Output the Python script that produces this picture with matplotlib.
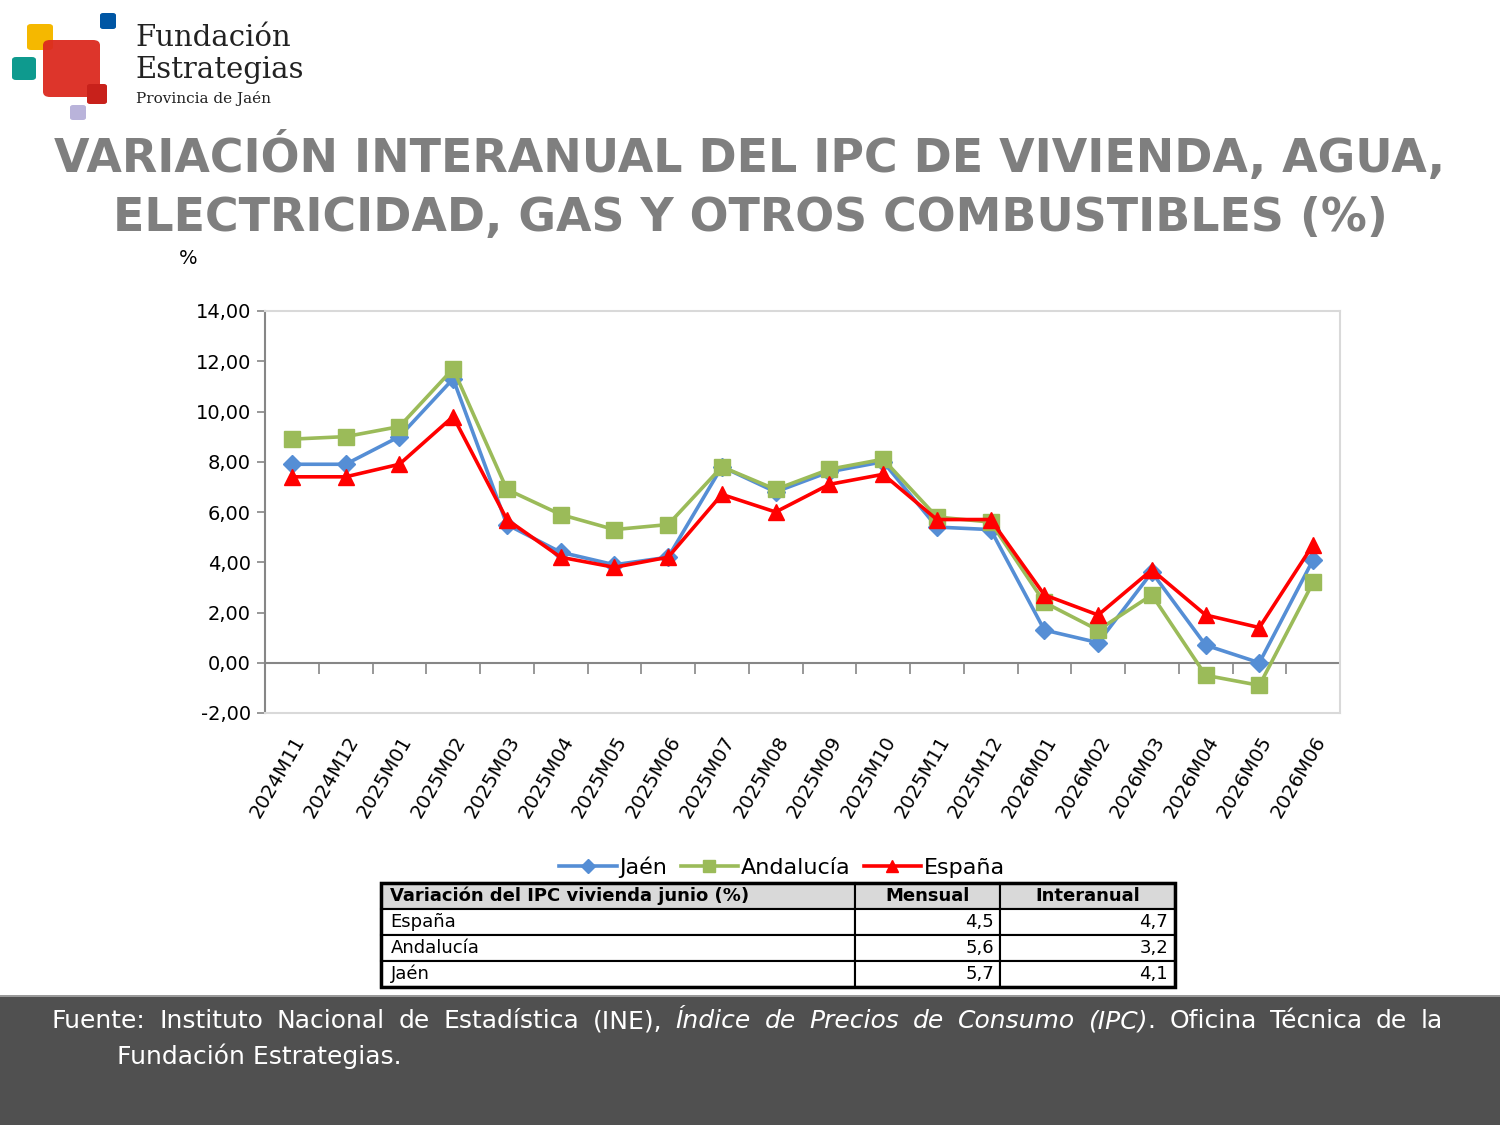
import numpy as np
import matplotlib
matplotlib.use("Agg")
import matplotlib.pyplot as plt
from matplotlib.patches import FancyBboxPatch, Rectangle
from matplotlib.ticker import FuncFormatter

meses = ["2024M11", "2024M12", "2025M01", "2025M02", "2025M03", "2025M04", "2025M05",
         "2025M06", "2025M07", "2025M08", "2025M09", "2025M10", "2025M11", "2025M12",
         "2026M01", "2026M02", "2026M03", "2026M04", "2026M05", "2026M06"]
jaen = [7.9, 7.9, 9.0, 11.3, 5.5, 4.4, 3.9, 4.2, 7.8, 6.8, 7.6, 8.0, 5.4, 5.3,
        1.3, 0.8, 3.6, 0.7, 0.0, 4.1]
andalucia = [8.9, 9.0, 9.4, 11.7, 6.9, 5.9, 5.3, 5.5, 7.8, 6.9, 7.7, 8.1, 5.8, 5.6,
             2.4, 1.3, 2.7, -0.5, -0.9, 3.2]
espana = [7.4, 7.4, 7.9, 9.8, 5.7, 4.2, 3.8, 4.2, 6.7, 6.0, 7.1, 7.5, 5.7, 5.7,
          2.7, 1.9, 3.7, 1.9, 1.4, 4.7]

tabla_cab = ["Variación del IPC vivienda junio (%)", "Mensual", "Interanual"]
tabla_filas = ["España", "Andalucía", "Jaén"]
tabla_mensual = ["4,5", "5,6", "5,7"]
tabla_interanual = ["4,7", "3,2", "4,1"]

W, H = 1500, 1125
fig = plt.figure(figsize=(15, 11.25), dpi=100)
fig.patch.set_facecolor("white")


def fx(px):
    return px / W


def fy(py):
    return 1 - py / H


# logo
def caja(x0, y0, x1, y1, color, r=4, alpha=1.0):
    p = FancyBboxPatch((fx(x0), fy(y1)), fx(x1 - x0), (y1 - y0) / H,
                       boxstyle="round,pad=0,rounding_size=%f" % (r / W),
                       transform=fig.transFigure, facecolor=color,
                       edgecolor="none", alpha=alpha, zorder=1)
    fig.patches.append(p)


caja(27, 24, 53, 50, "#f5b800")
caja(100, 13, 116, 29, "#0056a4", r=3)
caja(12, 57, 36, 80, "#0e9a8e")
caja(43, 40, 100, 97, "#dc2a1f", r=7, alpha=0.95)
caja(87, 84, 107, 104, "#c8211b", r=3)
caja(70, 105, 86, 120, "#b9b3da", r=3)
fig.text(fx(135), fy(38), "Fundación", family="DejaVu Serif", fontsize=21,
         color="#222222", va="center", ha="left")
fig.text(fx(135), fy(70), "Estrategias", family="DejaVu Serif", fontsize=21,
         color="#222222", va="center", ha="left")
fig.text(fx(136), fy(98), "Provincia de Jaén", family="DejaVu Serif", fontsize=11,
         color="#222222", va="center", ha="left")

# title
fig.text(0.5, fy(157), "VARIACIÓN INTERANUAL DEL IPC DE VIVIENDA, AGUA,",
         ha="center", va="center", fontsize=33, fontweight="bold", color="#7f7f7f")
fig.text(0.5, fy(218), "ELECTRICIDAD, GAS Y OTROS COMBUSTIBLES (%)",
         ha="center", va="center", fontsize=33, fontweight="bold", color="#7f7f7f")
fig.text(fx(188), fy(258), "%", ha="center", va="center", fontsize=14, color="black")

# chart
ax = fig.add_axes([fx(265), fy(713), fx(1340 - 265), (713 - 311) / H])
x = np.arange(len(meses))
ax.plot(x, jaen, color="#558ed5", lw=2.6, marker="D", ms=9, label="Jaén", zorder=3)
ax.plot(x, andalucia, color="#9bbb59", lw=2.6, marker="s", ms=11, label="Andalucía", zorder=4)
ax.plot(x, espana, color="#ff0000", lw=2.6, marker="^", ms=11, label="España", zorder=5)

ax.set_xlim(-0.5, len(meses) - 0.5)
ax.set_ylim(-2, 14)
ax.set_yticks(np.arange(-2, 15, 2))
ax.yaxis.set_major_formatter(FuncFormatter(lambda v, p: ("%.2f" % v).replace(".", ",")))
ax.tick_params(axis="y", labelsize=14, length=6, width=1.2, color="#868686", pad=4)
ax.set_xticks(x)
ax.set_xticklabels(meses, rotation=60, ha="right", rotation_mode="anchor", fontsize=14)
ax.tick_params(axis="x", length=0, pad=14)
for s in ["top", "right", "bottom"]:
    ax.spines[s].set_color("#d9d9d9")
    ax.spines[s].set_linewidth(1.5)
ax.spines["left"].set_color("#868686")
ax.spines["left"].set_linewidth(1.5)

# zero line with category separators
ax.axhline(0, color="#868686", lw=1.5, zorder=2)
sec = ax.secondary_xaxis(2 / 16)
sec.set_xticks(np.arange(-0.5, len(meses), 1))
sec.set_xticklabels([])
sec.tick_params(axis="x", direction="out", length=8, width=1.2, color="#868686")
sec.spines["bottom"].set_visible(False)

# legend
leg = fig.legend(loc="center", bbox_to_anchor=(fx(782), fy(867)), ncol=3, frameon=False,
                 fontsize=16, handlelength=2.6, columnspacing=0.6, handletextpad=0.1,
                 borderpad=0, markerscale=0.75)

# table
tax = fig.add_axes([fx(381), fy(987), fx(1175 - 381), (987 - 883) / H])
tax.axis("off")
celdas = [[n, m, i] for n, m, i in zip(tabla_filas, tabla_mensual, tabla_interanual)]
tb = tax.table(cellText=celdas, colLabels=tabla_cab, bbox=[0, 0, 1, 1],
               colWidths=[474, 145, 175], cellLoc="right")
tb.auto_set_font_size(False)
for (r, c), cell in tb.get_celld().items():
    cell.set_edgecolor("black")
    cell.set_linewidth(1.5)
    t = cell.get_text()
    t.set_fontsize(13)
    if r == 0:
        cell.set_facecolor("#d9d9d9")
        t.set_fontweight("bold")
        t.set_ha("left" if c == 0 else "center")
    else:
        t.set_ha("left" if c == 0 else "right")
    cell.PAD = 0.02 if c == 0 else 0.04
tax.add_patch(Rectangle((0, 0), 1, 1, transform=tax.transAxes, fill=False,
                        lw=2.5, edgecolor="black", zorder=10, clip_on=False))

# footer band
fig.patches.append(Rectangle((0, 0), 1, (H - 997) / H, transform=fig.transFigure,
                             facecolor="#505050", edgecolor="none", zorder=0))
fig.patches.append(Rectangle((0, (H - 997) / H), 1, 2 / H, transform=fig.transFigure,
                             facecolor="#9a9a9a", edgecolor="none", zorder=0))

pie = [("Fuente:", "normal"), ("Instituto", "normal"), ("Nacional", "normal"),
       ("de", "normal"), ("Estadística", "normal"), ("(INE),", "normal"),
       ("Índice", "italic"), ("de", "italic"), ("Precios", "italic"), ("de", "italic"),
       ("Consumo", "italic"), ("(IPC)", "italic"), (".", "normal"), ("Oficina", "normal"),
       ("Técnica", "normal"), ("de", "normal"), ("la", "normal")]
fig.canvas.draw()
rend = fig.canvas.get_renderer()
objs = []
for w, st in pie:
    t = fig.text(0, fy(1021), w, color="white", fontsize=18, style=st, va="center")
    objs.append(t)
anchos = [t.get_window_extent(rend).width for t in objs]
x0, x1 = 52, 1443
# "." sticks to "(IPC)"
huecos = len(objs) - 2
esp = (x1 - x0 - sum(anchos)) / huecos
pos = x0
for k, t in enumerate(objs):
    t.set_x(fx(pos))
    pos += anchos[k]
    if k + 1 < len(objs) and pie[k + 1][0] != ".":
        pos += esp
fig.text(fx(117), fy(1056), "Fundación Estrategias.", color="white", fontsize=18,
         va="center")

fig.savefig("out.png", dpi=100, facecolor="white")
